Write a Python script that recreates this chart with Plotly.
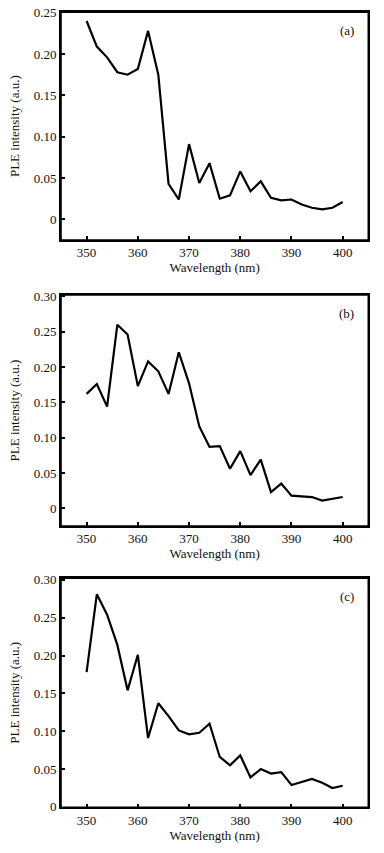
import plotly.graph_objects as go

wavelength = [350, 352, 354, 356, 358, 360, 362, 364, 366, 368, 370, 372, 374,
              376, 378, 380, 382, 384, 386, 388, 390, 392, 394, 396, 398, 400]

ple_a = [0.240, 0.209, 0.196, 0.178, 0.175, 0.182, 0.228, 0.175, 0.043, 0.024,
         0.091, 0.044, 0.068, 0.025, 0.029, 0.058, 0.034, 0.046, 0.026, 0.023,
         0.024, 0.018, 0.014, 0.012, 0.014, 0.021]

ple_b = [0.162, 0.176, 0.144, 0.260, 0.246, 0.173, 0.208, 0.194, 0.162, 0.221,
         0.177, 0.116, 0.087, 0.088, 0.056, 0.081, 0.047, 0.069, 0.023, 0.035,
         0.018, 0.017, 0.016, 0.011, 0.013, 0.016]

ple_c = [0.178, 0.281, 0.254, 0.214, 0.154, 0.201, 0.091, 0.137, 0.120, 0.101,
         0.096, 0.098, 0.110, 0.066, 0.055, 0.068, 0.039, 0.050, 0.044, 0.046,
         0.029, 0.033, 0.037, 0.032, 0.025, 0.028]

x_ticks = [350, 360, 370, 380, 390, 400]
y_ticks_a = [0, 0.05, 0.10, 0.15, 0.20, 0.25]
y_ticks_bc = [0, 0.05, 0.10, 0.15, 0.20, 0.25, 0.30]
y_text_a = ["0", "0.05", "0.10", "0.15", "0.20", "0.25"]
y_text_bc = ["0", "0.05", "0.10", "0.15", "0.20", "0.25", "0.30"]
panel_labels = ["(a)", "(b)", "(c)"]

FONT = "Liberation Serif, Times New Roman, serif"
W, H = 384, 853
TXT = "#111"

fig = go.Figure()

series = [ple_a, ple_b, ple_c]
ydoms = [(12.3, 240), (295, 526), (578.3, 807.3)]
yranges = [[-0.025, 0.2505], [-0.025, 0.302], [-0.0005, 0.302]]
yticks = [(y_ticks_a, y_text_a), (y_ticks_bc, y_text_bc), (y_ticks_bc, y_text_bc)]
xdom = [61 / W, 368.3 / W]

layout = dict(
    width=W, height=H, autosize=False,
    margin=dict(l=0, r=0, t=0, b=0),
    paper_bgcolor="white", plot_bgcolor="white",
    font=dict(family=FONT, size=13, color=TXT),
    showlegend=False,
)
annotations = []
shapes = []
for i, (vals, (top, bot), yr, (tv, tt)) in enumerate(zip(series, ydoms, yranges, yticks)):
    n = "" if i == 0 else str(i + 1)
    fig.add_trace(go.Scatter(x=wavelength, y=vals, mode="lines",
                             line=dict(color="black", width=2.2),
                             xaxis="x" + n, yaxis="y" + n))
    common = dict(showline=True, linecolor="black", linewidth=1.6, mirror=True,
                  ticks="inside", ticklen=4, tickwidth=1.5, tickcolor="black",
                  showgrid=False, zeroline=False, ticklabeloverflow="allow",
                  tickfont=dict(family=FONT, size=13, color=TXT))
    layout["xaxis" + n] = dict(
        domain=xdom, range=[345, 405], anchor="y" + n,
        tickvals=x_ticks, ticktext=[str(v) for v in x_ticks],
        title=dict(text="Wavelength (nm)", standoff=2,
                   font=dict(family=FONT, size=13, color=TXT)),
        automargin=False, **common)
    layout["yaxis" + n] = dict(
        domain=[1 - bot / H, 1 - top / H], range=yr, anchor="x" + n,
        tickvals=tv, ticktext=tt,
        title=dict(text="PLE intensity (a.u.)", standoff=11,
                   font=dict(family=FONT, size=13, color=TXT)),
        automargin=False, **common)
    shapes.append(dict(type="rect", xref="x" + n + " domain", yref="y" + n + " domain",
                       x0=0, x1=1, y0=0, y1=1, layer="above",
                       line=dict(color="black", width=1.6), fillcolor="rgba(0,0,0,0)"))
    annotations.append(dict(text=panel_labels[i], xref="x" + n + " domain",
                            yref="y" + n + " domain", x=0.93, y=0.92,
                            showarrow=False, xanchor="center", yanchor="middle",
                            font=dict(family=FONT, size=13, color=TXT)))
layout["annotations"] = annotations
layout["shapes"] = shapes
fig.update_layout(**layout)
fig.write_html("out.html", config={"displayModeBar": False},
               post_script="document.body.style.margin='0';document.body.style.overflow='hidden';")
